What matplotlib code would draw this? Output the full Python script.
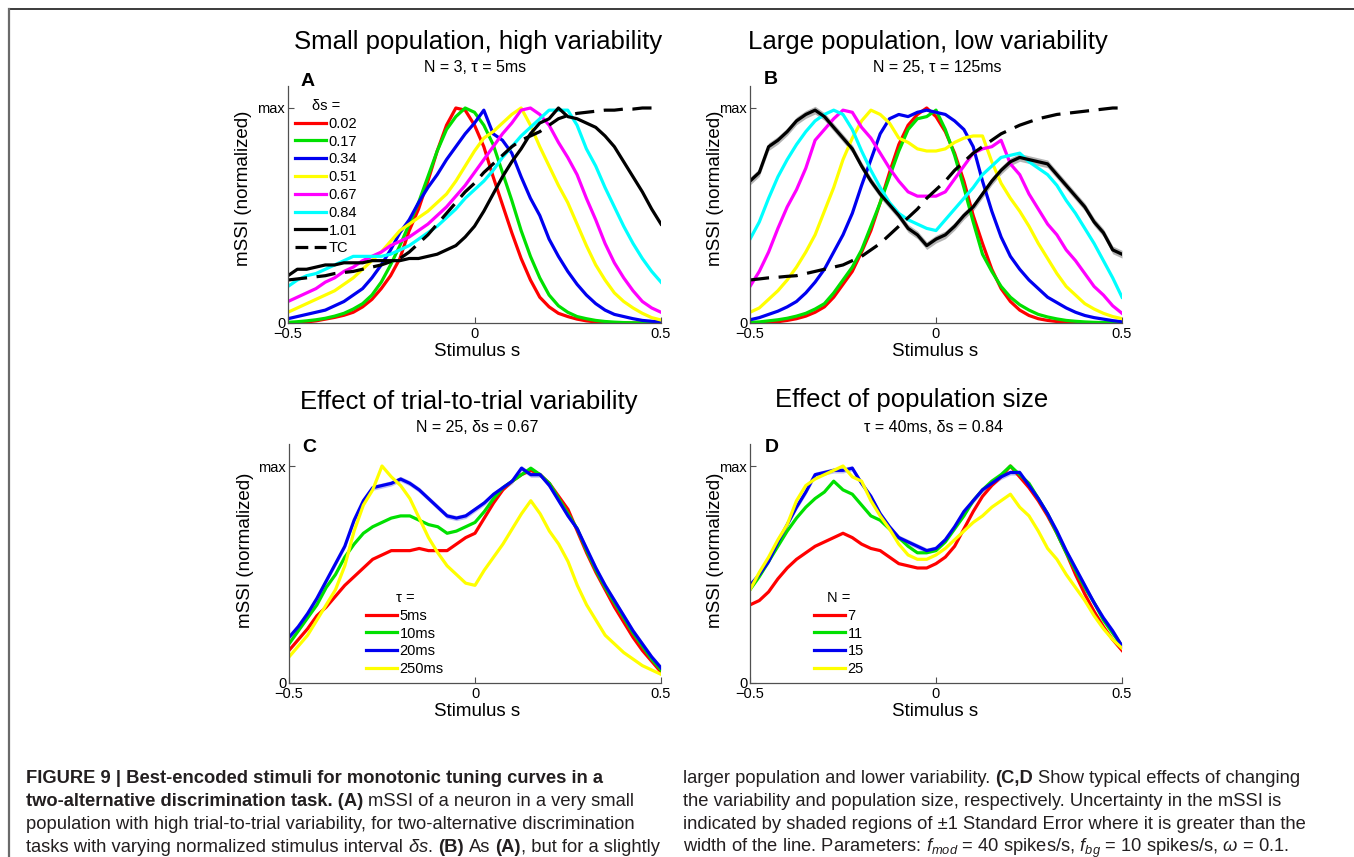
import numpy as np
import matplotlib
matplotlib.use("Agg")
import matplotlib.pyplot as plt
from matplotlib.lines import Line2D

# stimulus axis shared by every panel
s = np.linspace(-0.5, 0.5, 41)

# panel A: N = 3, tau = 5ms (one curve per delta s) + tuning curve
ds_labels = ["0.02", "0.17", "0.34", "0.51", "0.67", "0.84", "1.01"]
a_002 = [0.0, 0.002, 0.005, 0.01, 0.018, 0.026, 0.036, 0.05, 0.075, 0.11, 0.16, 0.22, 0.30, 0.43, 0.53, 0.66, 0.80, 0.92, 1.0, 0.99,
         0.92, 0.82, 0.68, 0.55, 0.42, 0.30, 0.20, 0.12, 0.075, 0.045, 0.03, 0.018, 0.01, 0.005, 0.003, 0.001, 0.0, 0.0, 0.0, 0.0, 0.0]
a_017 = [0.003, 0.006, 0.01, 0.015, 0.022, 0.032, 0.045, 0.065, 0.09, 0.13, 0.19, 0.27, 0.36, 0.46, 0.56, 0.68, 0.80, 0.90, 0.96, 1.0,
         0.98, 0.92, 0.83, 0.70, 0.57, 0.43, 0.31, 0.21, 0.13, 0.08, 0.05, 0.03, 0.02, 0.012, 0.007, 0.004, 0.002, 0.001, 0.0, 0.0, 0.0]
a_034 = [0.02, 0.03, 0.04, 0.05, 0.06, 0.08, 0.10, 0.13, 0.16, 0.21, 0.27, 0.34, 0.42, 0.48, 0.56, 0.63, 0.69, 0.76, 0.82, 0.88,
         0.93, 0.99, 0.88, 0.85, 0.79, 0.68, 0.58, 0.50, 0.39, 0.31, 0.24, 0.18, 0.13, 0.09, 0.06, 0.04, 0.03, 0.02, 0.012, 0.008, 0.005]
a_051 = [0.05, 0.07, 0.09, 0.11, 0.13, 0.15, 0.18, 0.21, 0.25, 0.29, 0.33, 0.38, 0.43, 0.46, 0.49, 0.52, 0.56, 0.60, 0.66, 0.73,
         0.80, 0.86, 0.89, 0.93, 0.97, 1.0, 0.92, 0.82, 0.73, 0.64, 0.56, 0.46, 0.36, 0.27, 0.20, 0.14, 0.10, 0.07, 0.045, 0.025, 0.014]
a_067 = [0.10, 0.12, 0.14, 0.16, 0.19, 0.21, 0.24, 0.26, 0.29, 0.31, 0.33, 0.36, 0.38, 0.40, 0.43, 0.46, 0.50, 0.54, 0.59, 0.64,
         0.70, 0.76, 0.82, 0.88, 0.93, 0.99, 1.0, 0.97, 0.92, 0.84, 0.77, 0.69, 0.58, 0.48, 0.37, 0.28, 0.21, 0.15, 0.10, 0.07, 0.05]
a_084 = [0.17, 0.20, 0.22, 0.23, 0.25, 0.27, 0.29, 0.31, 0.31, 0.31, 0.31, 0.32, 0.34, 0.36, 0.39, 0.42, 0.45, 0.49, 0.53, 0.58,
         0.62, 0.66, 0.71, 0.77, 0.82, 0.87, 0.91, 0.95, 0.99, 0.99, 0.99, 0.92, 0.81, 0.73, 0.63, 0.54, 0.45, 0.37, 0.30, 0.24, 0.19]
a_101 = [0.22, 0.25, 0.25, 0.26, 0.27, 0.27, 0.28, 0.28, 0.28, 0.29, 0.29, 0.29, 0.29, 0.30, 0.30, 0.31, 0.32, 0.34, 0.36, 0.40,
         0.45, 0.52, 0.60, 0.68, 0.75, 0.81, 0.88, 0.93, 0.95, 1.0, 0.96, 0.95, 0.93, 0.91, 0.87, 0.82, 0.75, 0.68, 0.61, 0.53, 0.46]
a_tc = [0.20, 0.205, 0.21, 0.215, 0.22, 0.23, 0.235, 0.24, 0.25, 0.26, 0.27, 0.285, 0.30, 0.33, 0.37, 0.41, 0.46, 0.51, 0.56, 0.61,
        0.65, 0.70, 0.74, 0.78, 0.82, 0.85, 0.87, 0.89, 0.92, 0.95, 0.965, 0.975, 0.98, 0.985, 0.99, 0.99, 0.995, 0.995, 1.0, 1.0, 1.0]

# panel B: N = 25, tau = 125ms
b_002 = [0.0, 0.001, 0.003, 0.006, 0.012, 0.02, 0.032, 0.05, 0.075, 0.12, 0.18, 0.24, 0.33, 0.43, 0.56, 0.70, 0.83, 0.92, 0.97, 1.0,
         0.96, 0.89, 0.79, 0.66, 0.50, 0.37, 0.25, 0.16, 0.10, 0.06, 0.035, 0.02, 0.012, 0.007, 0.004, 0.002, 0.001, 0.0, 0.0, 0.0, 0.0]
b_017 = [0.003, 0.005, 0.01, 0.015, 0.022, 0.032, 0.045, 0.065, 0.09, 0.14, 0.20, 0.26, 0.34, 0.45, 0.56, 0.68, 0.80, 0.90, 0.95, 0.96,
         0.99, 0.90, 0.78, 0.63, 0.47, 0.32, 0.24, 0.17, 0.12, 0.085, 0.06, 0.04, 0.028, 0.019, 0.012, 0.008, 0.005, 0.003, 0.002, 0.001, 0.0]
b_034 = [0.015, 0.025, 0.04, 0.055, 0.075, 0.10, 0.14, 0.19, 0.25, 0.33, 0.41, 0.51, 0.64, 0.76, 0.88, 0.95, 0.97, 0.96, 0.98, 0.99,
         0.98, 0.97, 0.94, 0.90, 0.82, 0.66, 0.52, 0.40, 0.31, 0.25, 0.20, 0.16, 0.12, 0.095, 0.07, 0.05, 0.035, 0.025, 0.018, 0.011, 0.006]
b_051 = [0.05, 0.07, 0.11, 0.15, 0.20, 0.26, 0.33, 0.41, 0.52, 0.63, 0.76, 0.86, 0.94, 0.99, 0.97, 0.93, 0.86, 0.84, 0.81, 0.80,
         0.80, 0.81, 0.84, 0.86, 0.87, 0.87, 0.75, 0.65, 0.58, 0.52, 0.45, 0.37, 0.30, 0.23, 0.17, 0.13, 0.09, 0.065, 0.045, 0.03, 0.02]
b_067 = [0.17, 0.24, 0.33, 0.44, 0.54, 0.62, 0.72, 0.85, 0.90, 0.95, 0.99, 0.98, 0.91, 0.86, 0.79, 0.72, 0.66, 0.61, 0.59, 0.59,
         0.59, 0.61, 0.67, 0.73, 0.79, 0.81, 0.82, 0.85, 0.74, 0.69, 0.60, 0.53, 0.46, 0.41, 0.34, 0.29, 0.23, 0.17, 0.13, 0.08, 0.045]
b_084 = [0.39, 0.47, 0.58, 0.68, 0.76, 0.83, 0.89, 0.94, 0.97, 0.99, 0.97, 0.90, 0.80, 0.71, 0.63, 0.56, 0.51, 0.48, 0.46, 0.44,
         0.43, 0.48, 0.53, 0.58, 0.63, 0.69, 0.73, 0.77, 0.78, 0.79, 0.75, 0.72, 0.69, 0.64, 0.57, 0.51, 0.44, 0.37, 0.29, 0.21, 0.12]
b_101 = [0.66, 0.70, 0.82, 0.85, 0.89, 0.94, 0.97, 0.99, 0.96, 0.91, 0.86, 0.81, 0.73, 0.66, 0.60, 0.55, 0.50, 0.44, 0.41, 0.36,
         0.39, 0.41, 0.45, 0.50, 0.54, 0.60, 0.66, 0.71, 0.75, 0.77, 0.76, 0.75, 0.74, 0.69, 0.64, 0.59, 0.54, 0.47, 0.42, 0.34, 0.32]
b_tc = [0.20, 0.205, 0.21, 0.213, 0.217, 0.22, 0.23, 0.24, 0.25, 0.26, 0.27, 0.29, 0.31, 0.34, 0.37, 0.41, 0.45, 0.49, 0.53, 0.58,
        0.62, 0.66, 0.71, 0.75, 0.79, 0.82, 0.85, 0.88, 0.90, 0.92, 0.935, 0.95, 0.96, 0.97, 0.975, 0.98, 0.985, 0.99, 0.995, 1.0, 1.0]

# panel C: N = 25, delta s = 0.67, one curve per tau
tau_labels = ["5ms", "10ms", "20ms", "250ms"]
c_5 = [0.15, 0.20, 0.25, 0.31, 0.35, 0.40, 0.45, 0.49, 0.53, 0.57, 0.59, 0.61, 0.61, 0.61, 0.62, 0.61, 0.61, 0.61, 0.64, 0.67,
       0.69, 0.76, 0.83, 0.89, 0.93, 0.96, 0.98, 0.96, 0.92, 0.86, 0.80, 0.70, 0.60, 0.51, 0.43, 0.35, 0.28, 0.21, 0.15, 0.10, 0.05]
c_10 = [0.18, 0.24, 0.30, 0.36, 0.44, 0.50, 0.58, 0.64, 0.69, 0.72, 0.74, 0.76, 0.77, 0.77, 0.75, 0.73, 0.72, 0.69, 0.70, 0.72,
        0.74, 0.79, 0.85, 0.90, 0.93, 0.96, 0.99, 0.96, 0.92, 0.85, 0.78, 0.71, 0.61, 0.52, 0.44, 0.37, 0.30, 0.23, 0.17, 0.11, 0.06]
c_20 = [0.21, 0.26, 0.32, 0.39, 0.47, 0.55, 0.63, 0.75, 0.84, 0.90, 0.91, 0.92, 0.94, 0.92, 0.89, 0.85, 0.81, 0.77, 0.76, 0.77,
        0.80, 0.83, 0.87, 0.90, 0.93, 0.99, 0.96, 0.96, 0.91, 0.84, 0.77, 0.71, 0.62, 0.53, 0.45, 0.38, 0.31, 0.24, 0.18, 0.12, 0.07]
c_250 = [0.12, 0.17, 0.22, 0.29, 0.36, 0.43, 0.54, 0.70, 0.82, 0.89, 1.0, 0.95, 0.91, 0.85, 0.76, 0.67, 0.60, 0.54, 0.50, 0.46,
         0.45, 0.52, 0.58, 0.64, 0.71, 0.78, 0.84, 0.78, 0.70, 0.64, 0.56, 0.45, 0.36, 0.29, 0.22, 0.18, 0.14, 0.11, 0.08, 0.06, 0.04]

# panel D: tau = 40ms, delta s = 0.84, one curve per population size
n_labels = ["7", "11", "15", "25"]
d_7 = [0.36, 0.38, 0.42, 0.48, 0.53, 0.57, 0.60, 0.63, 0.65, 0.67, 0.69, 0.67, 0.64, 0.62, 0.61, 0.58, 0.55, 0.54, 0.53, 0.53,
       0.55, 0.58, 0.63, 0.71, 0.79, 0.86, 0.91, 0.95, 1.0, 0.95, 0.90, 0.84, 0.77, 0.69, 0.60, 0.50, 0.41, 0.33, 0.26, 0.20, 0.15]
d_11 = [0.43, 0.49, 0.56, 0.63, 0.70, 0.76, 0.81, 0.85, 0.88, 0.93, 0.89, 0.87, 0.82, 0.77, 0.75, 0.71, 0.67, 0.63, 0.60, 0.60,
        0.61, 0.65, 0.71, 0.77, 0.84, 0.89, 0.93, 0.96, 1.0, 0.96, 0.92, 0.85, 0.78, 0.69, 0.60, 0.52, 0.44, 0.37, 0.29, 0.23, 0.17]
d_15 = [0.45, 0.50, 0.56, 0.65, 0.73, 0.81, 0.88, 0.96, 0.97, 0.98, 0.98, 0.99, 0.92, 0.86, 0.78, 0.72, 0.67, 0.65, 0.63, 0.61,
        0.62, 0.66, 0.72, 0.79, 0.84, 0.89, 0.92, 0.95, 0.97, 0.97, 0.91, 0.85, 0.78, 0.70, 0.61, 0.53, 0.45, 0.37, 0.30, 0.24, 0.17]
d_25 = [0.43, 0.51, 0.58, 0.66, 0.73, 0.84, 0.91, 0.94, 0.96, 0.98, 1.0, 0.95, 0.93, 0.84, 0.77, 0.71, 0.64, 0.59, 0.57, 0.57,
        0.59, 0.62, 0.66, 0.70, 0.74, 0.77, 0.81, 0.84, 0.87, 0.81, 0.77, 0.70, 0.62, 0.57, 0.50, 0.44, 0.38, 0.31, 0.25, 0.20, 0.16]

colors = ["#ff0000", "#00e000", "#0000f0", "#ffff00", "#ff00ff", "#00ffff", "#000000"]

W, H = 1354, 857
plt.rcParams["font.family"] = ["Liberation Sans", "DejaVu Sans"]
cap_font = "Liberation Sans"
cap_size = 13.2
plt.rcParams["mathtext.fontset"] = "custom"
plt.rcParams["mathtext.rm"] = cap_font
plt.rcParams["mathtext.it"] = cap_font + ":italic"
plt.rcParams["mathtext.bf"] = cap_font + ":bold"

fig = plt.figure(figsize=(W / 100, H / 100), dpi=100)
LW = 2.3


def ftext(x, y, txt, **kw):
    return fig.text(x / W, 1 - y / H, txt, **kw)


def make_axes(x0, x1, y_zero, unit):
    ax = fig.add_axes([x0 / W, 1 - y_zero / H, (x1 - x0) / W, unit * 1.1 / H])
    ax.set_xlim(-0.5, 0.5)
    ax.set_ylim(0, 1.1)
    ax.patch.set_alpha(0)
    for side in ("top", "right"):
        ax.spines[side].set_visible(False)
    for side in ("left", "bottom"):
        ax.spines[side].set_color("#505050")
        ax.spines[side].set_linewidth(0.9)
    ax.set_xticks([-0.5, 0, 0.5], ["\u22120.5", "0", "0.5"])
    ax.set_yticks([0, 1], ["0", "max"])
    ax.tick_params(direction="in", length=4, width=0.8, color="#505050",
                   labelsize=10.5, pad=2)
    ax.tick_params(axis="x", pad=3)
    return ax


def add_legend(ax, handles, labels, title, x, y):
    ax.legend(handles, labels, title=title, loc="upper left",
              bbox_to_anchor=(x / W, 1 - y / H), bbox_transform=fig.transFigure,
              frameon=False, fontsize=10.5, title_fontsize=10.5,
              handlelength=2.1, handletextpad=0.2, labelspacing=0.26,
              borderpad=0, borderaxespad=0)


# ---- panel A
axA = make_axes(288, 661, 323, 215)
a_curves = [a_002, a_017, a_034, a_051, a_067, a_084, a_101]
linesA = [axA.plot(s, v, color=c, lw=LW)[0] for v, c in zip(a_curves, colors)]
axA.plot(s, a_tc, color="black", lw=LW, dashes=(6, 3))
tc_handle = Line2D([], [], color="black", lw=LW, dashes=(4, 2))
add_legend(axA, linesA + [tc_handle], ds_labels + ["TC"], "\u03b4s =", 295, 99)

# ---- panel B
axB = make_axes(750, 1122, 323, 215)
b_curves = [b_002, b_017, b_034, b_051, b_067, b_084, b_101]
for v, c in zip(b_curves, colors):
    if c == "#000000":
        axB.fill_between(s, np.array(v) - 0.018, np.array(v) + 0.018, color="#b4b4b4", lw=0)
    axB.plot(s, v, color=c, lw=LW)
axB.plot(s, b_tc, color="black", lw=LW, dashes=(6, 3))

# ---- panel C
axC = make_axes(289, 661, 683, 217)
c_curves = [c_5, c_10, c_20, c_250]
axC.fill_between(s, np.array(c_20) - 0.012, np.array(c_20) + 0.012, color="#c0c0f4", lw=0)
linesC = [axC.plot(s, v, color=c, lw=LW)[0] for v, c in zip(c_curves, colors[:4])]
add_legend(axC, linesC, tau_labels, "\u03c4 =", 366, 591)

# ---- panel D
axD = make_axes(750, 1122, 683, 217)
d_curves = [d_7, d_11, d_15, d_25]
axD.fill_between(s, np.array(d_15) - 0.012, np.array(d_15) + 0.012, color="#c0c0f4", lw=0)
linesD = [axD.plot(s, v, color=c, lw=LW)[0] for v, c in zip(d_curves, colors[:4])]
add_legend(axD, linesD, n_labels, "N =", 814, 591)

# ---- titles, panel letters, axis labels
titles = [
    (478, 42, "Small population, high variability", 475, 68, "N = 3, \u03c4 = 5ms", 308, 82, "A", 244, 188, 477, 351),
    (928, 42, "Large population, low variability", 937, 68, "N = 25, \u03c4 = 125ms", 771, 80, "B", 716, 188, 935, 351),
    (469, 402, "Effect of trial-to-trial variability", 477, 427, "N = 25, \u03b4s = 0.67", 309, 447, "C", 245, 550, 477, 711),
    (912, 400, "Effect of population size", 934, 427, "\u03c4 = 40ms, \u03b4s = 0.84", 772, 447, "D", 716, 550, 935, 711),
]
for tx, ty, t, sx, sy, sub, lx, ly, let, yx, yy, xx, xy in titles:
    ftext(tx, ty, t, fontsize=18.5, ha="center", va="center")
    ftext(sx, sy, sub, fontsize=11.5, ha="center", va="center")
    ftext(lx, ly, let, fontsize=14, fontweight="bold", ha="center", va="center")
    ftext(yx, yy, "mSSI (normalized)", fontsize=13.5, rotation=90, ha="center", va="center")
    ftext(xx, xy, "Stimulus s", fontsize=13.5, ha="center", va="center")

# ---- frame lines of the page
fig.add_artist(Line2D([9 / W, 1], [1 - 9 / H, 1 - 9 / H], transform=fig.transFigure,
                      color="#1a1a1a", lw=1.2))
fig.add_artist(Line2D([9 / W, 9 / W], [0, 1 - 9 / H], transform=fig.transFigure,
                      color="#6a6a6a", lw=1.6))

# ---- caption
renderer = fig.canvas.get_renderer()


def text_width(txt, weight):
    t = fig.text(0, 0, txt, fontsize=cap_size, family=cap_font, fontweight=weight)
    w = t.get_window_extent(renderer).width
    t.remove()
    return w


space_w = {w: text_width("a a", w) - text_width("aa", w) for w in ("normal", "bold")}


def caption_line(x, y, parts):
    for txt, bold in parts:
        weight = "bold" if bold else "normal"
        lead = len(txt) - len(txt.lstrip(" "))
        x += lead * space_w[weight]
        t = ftext(x, y, txt.strip(" "), fontsize=cap_size, family=cap_font,
                  fontweight=weight, va="baseline", ha="left", color="#231f20")
        x += t.get_window_extent(renderer).width


left = [
    [("FIGURE 9 | Best-encoded stimuli for monotonic tuning curves in a", True)],
    [("two-alternative discrimination task. (A)", True), (" mSSI of a neuron in a very small", False)],
    [("population with high trial-to-trial variability, for two-alternative discrimination", False)],
    [("tasks with varying normalized stimulus interval", False), (r" $\delta s$.", False), (" (B)", True),
     (" As", False), (" (A)", True), (", but for a slightly", False)],
]
right = [
    [("larger population and lower variability.", False), (" (C,D", True), (" Show typical effects of changing", False)],
    [("the variability and population size, respectively. Uncertainty in the mSSI is", False)],
    [("indicated by shaded regions of \u00b11 Standard Error where it is greater than the", False)],
    [(r"width of the line. Parameters: $f_{mod}$ = 40 spikes/s, $f_{bg}$ = 10 spikes/s, $\omega$ = 0.1.", False)],
]
for i, parts in enumerate(left):
    caption_line(26, 783 + 22.9 * i, parts)
for i, parts in enumerate(right):
    caption_line(683, 783 + 22.9 * i, parts)

fig.savefig("out.png", dpi=100)
